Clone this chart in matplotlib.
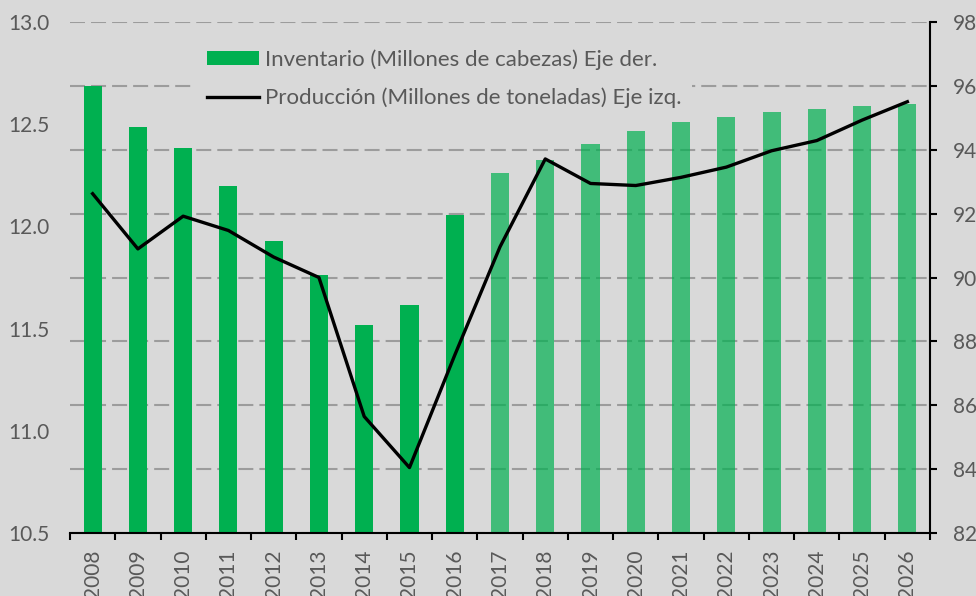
import matplotlib
matplotlib.use("Agg")
import matplotlib.pyplot as plt
import numpy as np
from matplotlib.patches import Patch
from matplotlib.lines import Line2D

years = [str(y) for y in range(2008, 2027)]
inventario = [96.0, 94.7, 94.06, 92.87, 91.14, 90.08, 88.51, 89.14, 91.96, 93.27,
              93.68, 94.18, 94.59, 94.87, 95.03, 95.18, 95.28, 95.37, 95.43]
produccion = [12.16, 11.89, 12.05, 11.98, 11.85, 11.75, 11.07, 10.82, 11.37, 11.90,
              12.33, 12.21, 12.20, 12.24, 12.29, 12.37, 12.42, 12.52, 12.61]
n_hist = 9  # 2008-2016 observed, rest projected

left_ticks = [10.5, 11.0, 11.5, 12.0, 12.5, 13.0]
right_ticks = [82, 84, 86, 88, 90, 92, 94, 96, 98]

BG = "#d9d9d9"
GREEN = "#00b050"
TXT = "#595959"
FONT = "Lato"
FS = 16
TFS = 15

plt.rcParams['font.family'] = [FONT, 'DejaVu Sans']

fig = plt.figure(figsize=(9.76, 5.96), dpi=100, facecolor=BG)
ax = fig.add_axes([70/976, 63/596, 860/976, 511/596])
ax.set_facecolor(BG)
ax2 = ax.twinx()

x = np.arange(len(years))
for i in range(len(years)):
    ax.bar(x[i], inventario[i], width=0.4, bottom=0, color=GREEN,
           alpha=1.0 if i < n_hist else 0.7, zorder=2, linewidth=0)

ax.set_ylim(82, 98)
ax.set_xlim(-0.5, len(years) - 0.5)
ax.set_yticks(right_ticks)
ax.yaxis.grid(True, color="#9c9c9c", linestyle=(0, (7.2, 2.9)), linewidth=1.5, zorder=0)
ax.set_axisbelow(True)
ax.set_xticks(x)
ax.set_xticklabels(years, rotation=90)
ax.set_xticks(np.arange(-0.5, len(years), 1), minor=True)
ax.tick_params(axis='x', which='major', length=0, labelsize=TFS, labelcolor=TXT, pad=12)
ax.tick_params(axis='x', which='minor', length=5, width=1.5, color='black')
for s in ['top', 'left', 'right']:
    ax.spines[s].set_visible(False)
ax.spines['bottom'].set_linewidth(1.5)

ax2.plot(x, produccion, color='black', linewidth=2.4, zorder=3)
ax2.set_ylim(10.5, 13.0)
ax2.set_yticks(left_ticks)
ax2.set_yticklabels([f"{v:.1f}" for v in left_ticks])
for s in ['top', 'left', 'right', 'bottom']:
    ax2.spines[s].set_visible(False)

# right axis (bars) ticks on right, left axis (line) ticks on left
ax.yaxis.set_ticks_position('right')
ax.yaxis.set_label_position('right')
ax.tick_params(axis='y', which='major', length=5, width=1.5, color='black',
               labelsize=TFS, labelcolor=TXT, pad=11.5, right=True, left=False,
               labelright=True, labelleft=False)
ax.spines['right'].set_visible(True)
ax.spines['right'].set_linewidth(1.5)
ax.spines['right'].set_zorder(5)

ax2.yaxis.set_ticks_position('left')
ax2.yaxis.set_label_position('left')
ax2.tick_params(axis='y', length=0, labelsize=TFS, labelcolor=TXT, pad=15,
                left=False, right=False, labelleft=True, labelright=False)

handles = [Patch(facecolor=GREEN, edgecolor='none'),
           Line2D([0], [0], color='black', linewidth=2.4)]
labels = ["Inventario (Millones de cabezas) Eje der.",
          "Producción (Millones de toneladas) Eje izq."]
leg = ax2.legend(handles, labels, loc='upper left',
                 bbox_to_anchor=(196/976, 1 - 38/596), bbox_transform=fig.transFigure,
                 frameon=True, facecolor=BG, edgecolor='none', framealpha=1,
                 fontsize=FS, handlelength=2.35, handleheight=0.6, handletextpad=0.25,
                 labelspacing=0.8, borderpad=0.5, borderaxespad=0, labelcolor=TXT)

fig.savefig("out.png", dpi=100, facecolor=BG)
